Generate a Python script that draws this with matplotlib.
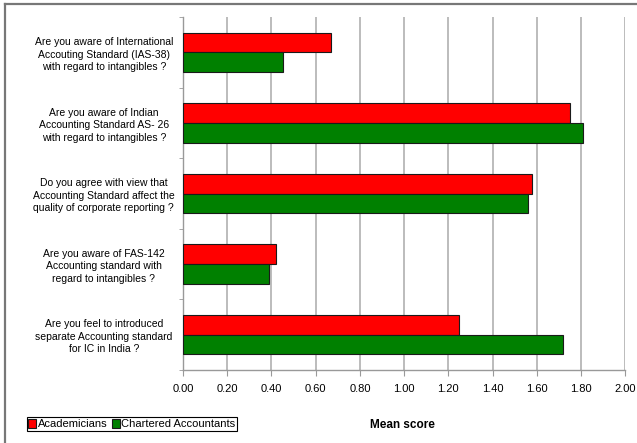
import numpy as np
import matplotlib.pyplot as plt
from matplotlib.lines import Line2D

plt.rcParams['font.family'] = ['Liberation Sans', 'DejaVu Sans']

questions = [
    'Are you aware of International\nAccouting Standard (IAS-38)\nwith regard to intangibles ?',
    'Are you aware of Indian\nAccounting Standard AS- 26\nwith regard to intangibles ?',
    'Do you agree with view that\nAccounting Standard affect the\nquality of corporate reporting ?',
    'Are you aware of FAS-142\nAccounting standard with\nregard to intangibles ?',
    'Are you feel to introduced\nseparate Accounting standard\nfor IC in India ?',
]
academicians = [0.67, 1.75, 1.58, 0.42, 1.25]
chartered = [0.45, 1.81, 1.56, 0.39, 1.72]
xticks = [0.0, 0.2, 0.4, 0.6, 0.8, 1.0, 1.2, 1.4, 1.6, 1.8, 2.0]

fig = plt.figure(figsize=(6.37, 4.43), dpi=100)
ax = fig.add_axes([0.2873, 0.1648, 0.6943, 0.7968])

y = np.arange(len(questions))
h = 0.28
ax.barh(y - h / 2, academicians, height=h, color='#FF0000', edgecolor='#1a1a1a',
        linewidth=0.8, label='Academicians', zorder=3)
ax.barh(y + h / 2, chartered, height=h, color='#008000', edgecolor='#1a1a1a',
        linewidth=0.8, label='Chartered Accountants', zorder=3)

ax.set_xlim(0, 2.0)
ax.set_ylim(len(questions) - 0.5, -0.5)
ax.set_xticks(xticks)
ax.set_xticklabels([f'{v:.2f}' for v in xticks], fontsize=8)
ax.set_yticks(y)
ax.set_yticklabels(questions, fontsize=7.5, ha='center', linespacing=1.3)
ax.set_yticks(np.arange(-0.5, len(questions), 1), minor=True)
ax.tick_params(axis='y', which='major', length=0, pad=57)
ax.tick_params(axis='y', which='minor', length=3, color='#999999')
ax.tick_params(axis='x', length=4, color='#999999', pad=6)

ax.grid(axis='x', color='#b0b0b0', linewidth=1.2, zorder=0)
for side in ['top', 'right']:
    ax.spines[side].set_visible(False)
for side in ['left', 'bottom']:
    ax.spines[side].set_color('#999999')
    ax.spines[side].set_linewidth(1.0)

ax.set_xlabel('Mean score', fontsize=8.5, fontweight='bold')
ax.xaxis.set_label_coords(0.497, -0.139)

leg = fig.legend(loc='center left', bbox_to_anchor=(0.042, 0.043), ncol=2, fontsize=8,
                 frameon=True, fancybox=False, edgecolor='black', framealpha=1,
                 handlelength=0.7, handleheight=0.9, handletextpad=0.15,
                 columnspacing=0.4, borderpad=0.15, borderaxespad=0)
leg.get_frame().set_linewidth(0.8)

# outer chart frame
fig.add_artist(Line2D([0.008, 0.008], [0.0, 0.991], color='#777777', linewidth=1.6))
fig.add_artist(Line2D([0.008, 1.0], [0.991, 0.991], color='#777777', linewidth=1.6))

fig.savefig('out.png', dpi=100)
